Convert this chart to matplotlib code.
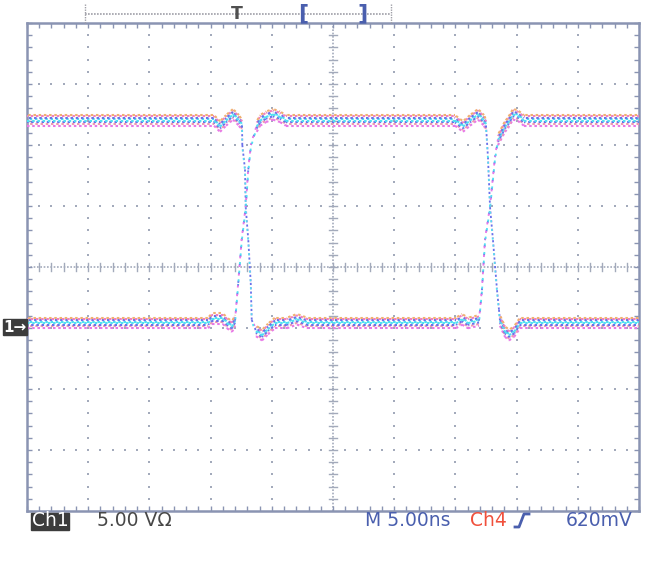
import matplotlib
matplotlib.use("Agg")
import matplotlib.pyplot as plt
from matplotlib.lines import Line2D
from matplotlib.patches import Rectangle
from matplotlib.collections import LineCollection
import numpy as np

plt.rcParams['font.family'] = ['DejaVu Sans']

# ---- data (time in ns, voltage in V; 5 ns/div, 5 V/div) ----
# waveform A: high -> falls near -7 ns -> low -> rises near 13 ns -> high
a_t = [-25.0, -9.72, -9.23, -8.74, -8.17, -7.68, -7.43, -7.41, -7.19, -7.13, -6.92,
       -6.72, -6.64, -6.29, -5.80, -5.31, -4.74, -3.76, -2.94, -2.12, 10.05, 10.54,
       11.03, 11.93, 12.17, 12.42, 12.83, 13.24, 13.48, 14.05, 14.30, 14.70, 15.10,
       15.60, 25.0]
a_v = [17.0, 17.0, 16.5, 17.0, 17.5, 17.0, 16.6, 15.0, 13.0, 9.9, 7.2,
       3.7, 0.66, -0.25, -0.6, -0.1, 0.4, 0.4, 0.7, 0.4, 0.4, 0.7,
       0.4, 0.6, 3.1, 7.2, 9.9, 14.0, 15.4, 16.5, 16.8, 17.5, 17.4,
       17.0, 17.0]
# waveform B: low -> rises near -7 ns -> high -> falls near 13 ns -> low
b_t = [-25.0, -10.2, -9.89, -8.99, -8.66, -8.25, -8.00, -7.74, -7.46, -7.13, -6.92,
       -6.70, -6.23, -5.96, -5.47, -4.90, -4.33, -3.84, 9.97, 10.62, 11.19, 11.85,
       12.34, 12.50, 12.66, 12.83, 13.07, 13.40, 13.56, 13.64, 14.05, 14.38, 14.80,
       15.28, 25.0]
b_v = [0.4, 0.4, 0.75, 0.75, 0.4, 0.1, 0.6, 3.7, 7.2, 9.9, 13.0,
       15.0, 16.5, 17.0, 17.3, 17.5, 17.3, 17.0, 17.0, 16.5, 17.0, 17.5,
       17.0, 16.6, 14.0, 9.9, 7.2, 3.1, 1.5, 0.6, -0.3, -0.6, -0.3,
       0.4, 0.4]

t_min, t_max, t_div = -25.0, 25.0, 5.0
v_min, v_max, v_div = -15.0, 25.0, 5.0

bottom_labels = ["5.00 V\u03a9", "M 5.00ns", "Ch4", "620mV"]

W, H = 665, 562
fig = plt.figure(figsize=(W / 100, H / 100), dpi=100)
fig.patch.set_facecolor('white')

L, R, T, B = 27, 639, 23, 511
ax = fig.add_axes([L / W, 1 - B / H, (R - L) / W, (B - T) / H])
ax.set_xlim(t_min, t_max)
ax.set_ylim(v_min, v_max)
frame_col = '#8a94b2'
for s in ax.spines.values():
    s.set_color(frame_col)
    s.set_linewidth(1.8)
ax.set_xticks(np.arange(t_min, t_max + 0.01, t_div))
ax.set_yticks(np.arange(v_min, v_max + 0.01, v_div))
ax.set_xticks(np.arange(t_min, t_max + 0.01, 1.0), minor=True)
ax.set_yticks(np.arange(v_min, v_max + 0.01, 1.0), minor=True)
ax.tick_params(which='both', direction='in', length=3.5, width=1.0, color=frame_col,
               top=True, right=True, labelbottom=False, labelleft=False)

grid_col = '#a3aabb'
tc = 0.0
vc = 5.0
gx, gy = [], []
for xm in np.arange(t_min + t_div, t_max, t_div):
    if abs(xm - tc) < 1e-6:
        continue
    for y in np.arange(v_min + 1, v_max, 1.0):
        gx.append(xm); gy.append(y)
for ym in np.arange(v_min + v_div, v_max, v_div):
    if abs(ym - vc) < 1e-6:
        continue
    for x in np.arange(t_min + 1, t_max, 1.0):
        gx.append(x); gy.append(ym)
ax.scatter(gx, gy, s=2.2, color=grid_col, marker='s', linewidths=0, zorder=1)

ax.plot([t_min, t_max], [vc, vc], color=grid_col, lw=1.2, ls=(0, (1, 1)), zorder=1)
ax.plot([tc, tc], [v_min, v_max], color=grid_col, lw=1.2, ls=(0, (1, 1)), zorder=1)
for x in np.arange(t_min + 1, t_max, 1.0):
    ax.plot([x, x], [vc - 0.3, vc + 0.3], color=grid_col, lw=1.0, zorder=1)
for y in np.arange(v_min + 1, v_max, 1.0):
    ax.plot([tc - 0.3, tc + 0.3], [y, y], color=grid_col, lw=1.0, zorder=1)

# ---- traces: flat parts (dense coloured band) and edges (dotted strands)
px_per_ns = (R - L) / (t_max - t_min)
px_per_v = (B - T) / (v_max - v_min)

flat_strands = [(-0.42, '#e878e8', 0.0), (-0.27, '#f09ab0', 1.0), (-0.14, '#6a70ea', 0.5),
                (0.0, '#50e0f2', 0.0), (0.1, '#50e0f2', 1.2), (0.22, '#6a70ea', 1.6),
                (0.34, '#f080c0', 0.7), (0.45, '#f0b070', 1.9)]
edge_strands = [(0.0, '#6a70ea', 0.0), (0.12, '#e878e8', 1.6), (-0.12, '#50e0f2', 3.2)]

for tt, vv in [(a_t, a_v), (b_t, b_v)]:
    tt = np.asarray(tt); vv = np.asarray(vv)
    flat, edge = [], []
    for i in range(len(tt) - 1):
        dx = (tt[i + 1] - tt[i]) * px_per_ns
        dy = (vv[i + 1] - vv[i]) * px_per_v
        seg = [(tt[i], vv[i]), (tt[i + 1], vv[i + 1])]
        (edge if abs(dy) > 2.5 * abs(dx) else flat).append(seg)
    for off, col, ph in flat_strands:
        segs = [[(x, y + off) for x, y in s] for s in flat]
        ax.add_collection(LineCollection(segs, colors=col, linewidths=1.5,
                                         linestyles=[(ph, (1.2, 1.3))], zorder=3))
    for off, col, ph in edge_strands:
        segs = [[(x, y + off) for x, y in s] for s in edge]
        ax.add_collection(LineCollection(segs, colors=col, linewidths=1.3,
                                         linestyles=[(ph, (1.2, 3.6))], zorder=3))

# ---- overlays in pixel coordinates ----
def fx(x):
    return x / W

def fy(y):
    return 1 - y / H

bar_col = '#a0a0a8'
fig.add_artist(Line2D([fx(85), fx(391)], [fy(13.5), fy(13.5)], color=bar_col, lw=1.2,
                      ls=(0, (1, 0.8))))
for x in (85, 391):
    fig.add_artist(Line2D([fx(x), fx(x)], [fy(4), fy(23)], color=bar_col, lw=1.0,
                          ls=(0, (1, 0.8))))
fig.text(fx(237), fy(14), "T", color='#505050', fontsize=12.5, fontweight='bold',
         ha='center', va='center')
blue = '#4a5fae'
fig.text(fx(303), fy(13), "[", color=blue, fontsize=16, ha='center', va='center',
         fontweight='bold')
fig.text(fx(363), fy(13), "]", color=blue, fontsize=16, ha='center', va='center',
         fontweight='bold')

fig.add_artist(Rectangle((fx(3), fy(335)), fx(24), 16 / H, color='#3c3c3c'))
fig.text(fx(15), fy(327), "1\u2192", color='white', fontsize=11, ha='center',
         va='center', fontweight='bold')

ty = 521
fs = 13.5
fig.add_artist(Rectangle((fx(31), fy(529.5)), fx(38), 17 / H, color='#3c3c3c'))
fig.text(fx(50), fy(ty), "Ch1", color='white', fontsize=fs, ha='center', va='center')
fig.text(fx(97), fy(ty), bottom_labels[0], color='#474747', fontsize=fs, ha='left',
         va='center')
fig.text(fx(365), fy(ty), bottom_labels[1], color=blue, fontsize=fs, ha='left',
         va='center')
fig.text(fx(470), fy(ty), bottom_labels[2], color='#f0503c', fontsize=fs, ha='left',
         va='center')
fig.add_artist(Line2D([fx(515), fx(519), fx(524), fx(529)],
                      [fy(527), fy(527), fy(514), fy(514)], color=blue, lw=2.0))
fig.text(fx(566), fy(ty), bottom_labels[3], color=blue, fontsize=fs, ha='left',
         va='center')

fig.savefig("out.png", dpi=100, facecolor='white')
